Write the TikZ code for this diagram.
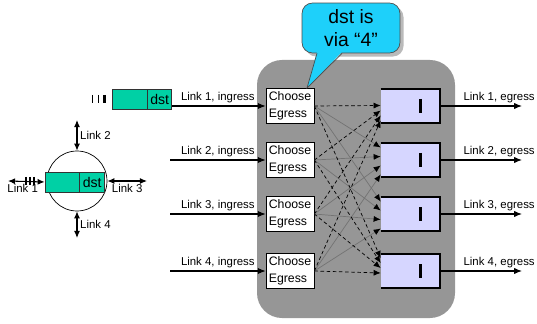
\documentclass[tikz,border=0pt]{standalone}
\usepackage{fontspec}
\setmainfont{Liberation Sans}
\usetikzlibrary{arrows.meta,positioning,calc,shadows}
\definecolor{switchgrey}{RGB}{150,150,150}
\definecolor{pkteal}{RGB}{0,208,165}
\definecolor{qlilac}{RGB}{214,214,255}
\definecolor{notecyan}{RGB}{30,208,250}

\tikzset{
  lbl/.style={font=\fontsize{6.5}{8}\selectfont, inner sep=1.5pt},
  link/.style={semithick, -{Latex[length=4.5pt,width=3.6pt]}},
  biglink/.style={semithick, {Latex[length=4pt,width=3.4pt]}-{Latex[length=4pt,width=3.4pt]}},
  chooser/.style={draw, fill=white, align=left, minimum width=0.96cm, minimum height=0.7cm,
    inner sep=1pt, font=\fontsize{7}{9.4}\selectfont},
  outq/.style={fill=qlilac, minimum width=1.18cm, minimum height=0.68cm, inner sep=0pt},
  pktbody/.style={draw=black!80, fill=pkteal, minimum height=0.4cm, inner sep=0pt,
    font=\fontsize{8}{9}\selectfont},
  dashline/.style={thin, dash pattern=on 2pt off 1.5pt, -{Latex[length=4pt,width=3.4pt]}},
  greyline/.style={thin, black!55, -{Latex[length=4pt,width=3.4pt,color=black]}},
  bubble/.style={draw=black!70, fill=notecyan, rounded corners=6pt, minimum width=1.96cm,
    minimum height=1.0cm, inner sep=1pt, align=center, font=\fontsize{11}{13}\selectfont,
    drop shadow={shadow xshift=2pt, shadow yshift=-2pt, fill=black!45, opacity=0.6}},
}

\begin{document}
\begin{tikzpicture}[x=0.02cm, y=-0.02cm]
  \useasboundingbox (0,0) rectangle (537,324);
  % switch fabric backdrop
  \fill[switchgrey, rounded corners=0.5cm] (257,60) rectangle (455,318);

  % ports: chooser on the way in, queue on the way out
  \foreach \k/\y in {1/106, 2/160, 3/214, 4/271} {
    \node[chooser] (ce\k) at (290,\y) {Choose\\Egress};
    \node[outq] (q\k) at (410.5,\y) {};
    \draw[very thick] (q\k.north west) -- (q\k.north east) -- (q\k.south east) -- (q\k.south west);
    \draw[line width=1.6pt] ($(q\k.center)+(10,-7)$) -- ($(q\k.center)+(10,7)$);
    \coordinate (in\k) at (170,\y);
    \coordinate (out\k) at (522,\y);
    \draw[link] (in\k) -- (ce\k) node[midway, above, lbl] {Link \k, ingress};
    \draw[link] (q\k) -- (out\k) node[pos=0.72, above, lbl] {Link \k, egress};
  }

  % crossbar paths
  \foreach \j/\spread/\shift/\sty in {2/9/1/greyline, 3/9/1/greyline, 1/5/7/dashline, 4/5/-5.5/dashline}
    \foreach \i in {1,...,4} {
      \pgfmathsetmacro\off{\spread*(\i-2.5)+\shift}
      \draw[\sty] (ce\i.east) -- ($(q\j.west)+(0,\off)$);
    }

  % arriving packet
  \node[pktbody, minimum width=0.7cm] (pktA) at (129.5,99) {};
  \node[pktbody, minimum width=0.48cm, right=0pt of pktA] (pktAdst) {dst};
  \foreach \dx/\lw in {-19/0.6pt, -13/0.6pt, -7/1.4pt}
    \draw[line width=\lw] ($(pktA.west)+(\dx,-4)$) -- ($(pktA.west)+(\dx,4)$);

  % router with four links
  \node[circle, draw, minimum size=1.2cm, inner sep=0pt] (router) at (77,181) {};
  \node[pktbody, minimum width=0.68cm] (pktB) at (62,182) {};
  \node[pktbody, minimum width=0.5cm, right=0pt of pktB] (pktBdst) {dst};
  \coordinate (l1) at (8,181);
  \coordinate (l2) at (77,120);
  \coordinate (l3) at (147,181);
  \coordinate (l4) at (77,238);
  \draw[biglink] (l1) -- (pktB.west) node[pos=0.4, below, lbl] {Link 1};
  \foreach \x/\lw in {26/0.6pt, 30/0.6pt, 34/1.4pt}
    \draw[line width=\lw] (\x,177) -- (\x,185);
  \draw[biglink] (l2) -- (router.north) node[midway, right, lbl] {Link 2};
  \draw[biglink] (router.east) -- (l3) node[midway, below, lbl] {Link 3};
  \draw[biglink] (router.south) -- (l4) node[midway, right, lbl] {Link 4};

  % routing decision note
  \node[bubble] (dstnote) at (351,28) {dst is\\via “4”};
  \coordinate (tip) at (307,88);
  \fill[notecyan] ($(dstnote.south)+(-34,-1.5)$) -- (tip) -- ($(dstnote.south)+(-9,-1.5)$) -- cycle;
  \draw[black!70] ($(dstnote.south)+(-34,0)$) -- (tip) -- ($(dstnote.south)+(-9,0)$);
\end{tikzpicture}
\end{document}
